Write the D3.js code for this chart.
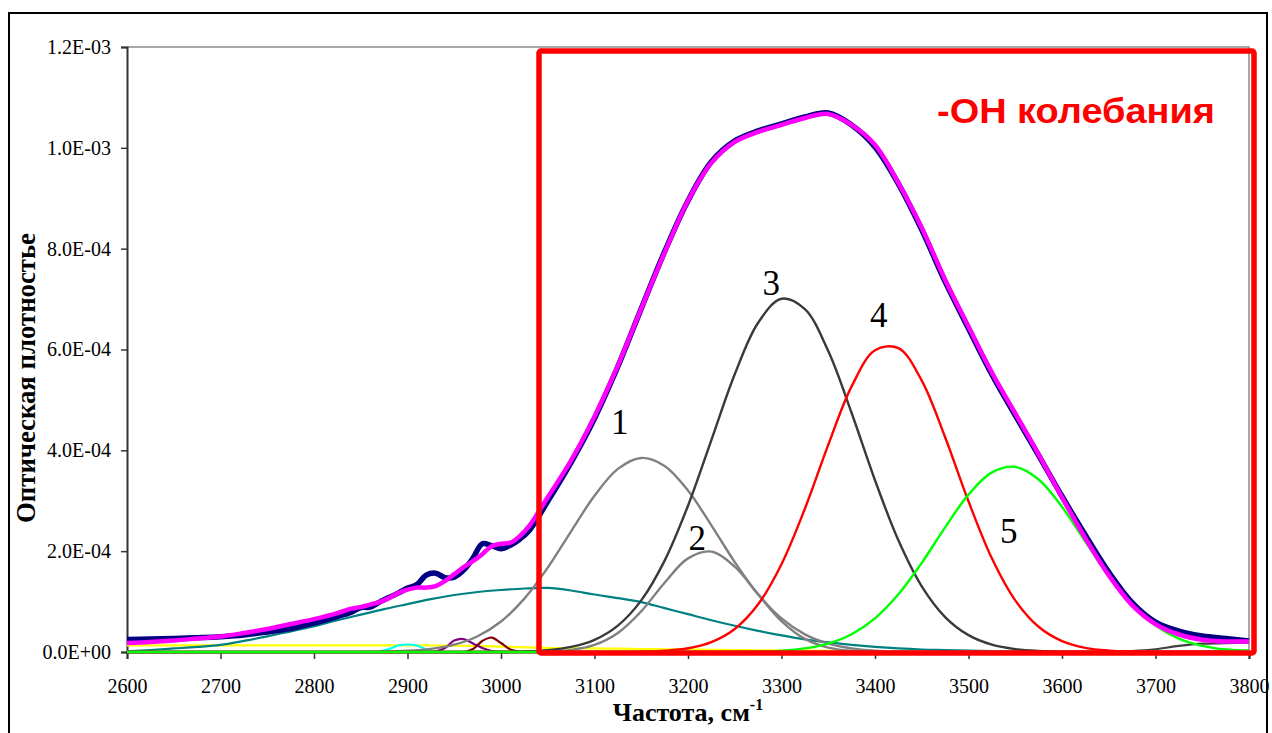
<!DOCTYPE html>
<html>
<head>
<meta charset="utf-8">
<script src="https://cdn.jsdelivr.net/npm/d3@7"></script>
<style>
  body { margin: 0; background: #fff; }
  svg { display: block; }
</style>
</head>
<body>
<svg id="chart" width="1272" height="733"></svg>
<script>
// Band intensities are listed in units of 1e-4 (optical density).
const UNIT = 1e-4;

// Main wavenumber grid, cm^-1
const wn = [2600,2625,2650,2675,2700,2725,2750,2775,2800,2825,2850,2875,2900,2925,2950,2975,
            3000,3025,3050,3075,3100,3125,3150,3175,3200,3225,3250,3275,3300,3325,3350,3375,
            3400,3425,3450,3475,3500,3525,3550,3575,3600,3625,3650,3675,3700,3725,3750,3775,3800];

// Fine grid for the narrow C-H bands
const wnFine = [2860,2870,2880,2890,2900,2910,2920,2930,2940,2950,2960,2970,2980,2990,3000,3010,3020,3030];

// Grid of the measured spectrum and of the fitted envelope
const wnSpec = [2600,2625,2650,2675,2700,2725,2750,2775,2800,2825,
                2840,2850,2860,2870,2880,2890,2900,2910,2920,2930,2940,2950,2960,2970,2980,2990,3000,3010,3020,3030,
                3050,3075,3100,3125,3150,3175,3200,3225,3250,3275,3300,3325,3350,3375,3400,3425,3450,3475,3500,
                3525,3550,3575,3600,3625,3650,3675,3700,3725,3750,3775,3800];

// Measured spectrum
const measured = [0.248,0.257,0.267,0.283,0.303,0.337,0.396,0.465,0.574,0.703,
                  0.792,0.881,0.891,0.990,1.079,1.168,1.267,1.337,1.525,1.564,1.475,1.485,1.624,1.861,2.148,2.109,2.049,2.119,2.237,2.406,
                  2.990,3.762,4.633,5.663,6.811,7.940,8.950,9.722,10.138,10.336,10.474,10.613,10.692,10.454,10.019,9.286,8.375,7.346,6.415,
                  5.504,4.693,3.901,3.089,2.317,1.584,0.980,0.594,0.416,0.317,0.267,0.218];

// Sum of the fitted bands
const fitted = [0.178,0.198,0.228,0.267,0.307,0.376,0.455,0.554,0.653,0.772,
                0.861,0.891,0.941,0.990,1.069,1.168,1.238,1.277,1.277,1.307,1.406,1.544,1.683,1.802,1.940,2.099,2.148,2.168,2.297,2.495,
                3.069,3.802,4.673,5.683,6.811,7.920,8.950,9.702,10.118,10.316,10.454,10.593,10.672,10.454,10.058,9.306,8.415,7.385,6.455,
                5.544,4.732,3.920,3.069,2.257,1.525,0.931,0.554,0.347,0.244,0.210,0.208];

// OH bands 1-5 on the main grid
const band1 = [0,0,0,0,0,0,0,0,0,0,0,0.008,0.024,0.062,0.146,0.313,0.605,1.058,1.673,2.394,3.100,3.632,3.849,3.690,3.201,
               2.512,1.784,1.146,0.666,0.350,0.166,0.072,0.028,0.010,0.003,0,0,0,0,0,0,0,0,0,0,0,0,0,0];
const band2 = [0,0,0,0,0,0,0,0,0,0,0,0,0,0,0,0,0,0.002,0.010,0.041,0.140,0.377,0.808,1.375,1.857,
               1.991,1.693,1.143,0.613,0.260,0.088,0.024,0.005,0,0,0,0,0,0,0,0,0,0,0,0,0,0,0,0];
const band3 = [0,0,0,0,0,0,0,0,0,0,0,0,0,0,0,0,0.004,0.013,0.038,0.101,0.242,0.524,1.024,1.813,2.902,
               4.204,5.509,6.531,7.006,6.799,5.968,4.740,3.407,2.215,1.302,0.693,0.334,0.145,0.057,0.020,0.007,0.002,0,0,0,0,0,0,0];
const band4 = [0,0,0,0,0,0,0,0,0,0,0,0,0,0,0,0,0,0,0,0,0,0,0.007,0.025,0.074,
               0.195,0.456,0.946,1.742,2.841,4.109,5.268,5.986,6.029,5.383,4.260,2.989,1.859,1.025,0.501,0.217,0.083,0.028,0.009,0.002,0,0,0,0];
const band5 = [0,0,0,0,0,0,0,0,0,0,0,0,0,0,0,0,0,0,0,0,0,0,0,0,0,
               0,0.003,0.010,0.028,0.072,0.168,0.353,0.668,1.144,1.769,2.473,3.122,3.562,3.673,3.421,2.879,2.190,1.504,0.934,0.524,0.265,0.122,0.050,0.030];

// Broad background bands on the main grid
const bandBroad = [0.015,0.04,0.07,0.10,0.14,0.22,0.31,0.41,0.51,0.63,0.74,0.85,0.95,1.05,1.13,1.19,1.23,1.26,1.27,1.22,1.14,1.07,0.99,0.87,0.75,
                   0.63,0.52,0.42,0.33,0.25,0.19,0.14,0.10,0.07,0.05,0.04,0.03,0.02,0.01,0,0,0,0,0,0,0,0,0,0];
const bandFlat = [0.13,0.13,0.13,0.13,0.13,0.13,0.13,0.13,0.13,0.13,0.13,0.13,0.13,0.13,0.125,0.12,0.105,0.09,0.08,0.075,0.07,0.065,0.06,0.055,0.05,
                  0.045,0.04,0.035,0.03,0.027,0.025,0.022,0.02,0.018,0.016,0.014,0.012,0.01,0.008,0.007,0.006,0.005,0.004,0.004,0.003,0.003,0.002,0.002,0.002];
const bandHigh = [0,0,0,0,0,0,0,0,0,0,0,0,0,0,0,0,0,0,0,0,0,0,0,0,0,
                  0,0,0,0,0,0,0,0,0,0,0,0,0,0,0,0,0,0.005,0.02,0.055,0.12,0.165,0.175,0.19];

// Narrow C-H bands on the fine grid
const bandCH1 = [0,0.01,0.059,0.129,0.149,0.129,0.05,0.01,0,0,0,0,0,0,0,0,0,0];
const bandCH2 = [0,0,0,0,0,0,0,0.01,0.079,0.228,0.257,0.168,0.079,0.02,0,0,0,0];
const bandCH3 = [0,0,0,0,0,0,0,0,0,0,0,0.059,0.218,0.287,0.178,0.05,0.01,0];

// Axis ticks
const xTicks = [2600,2700,2800,2900,3000,3100,3200,3300,3400,3500,3600,3700,3800];
const yTicks = [0,2e-4,4e-4,6e-4,8e-4,1e-3,1.2e-3];
const yTickLabels = ["0.0E+00","2.0E-04","4.0E-04","6.0E-04","8.0E-04","1.0E-03","1.2E-03"];

// Band numbers and where they sit (wavenumber, intensity in 1e-4)
const bandLabels = ["1","2","3","4","5"];
const bandLabelAt = [[3127,4.32],[3210,2.02],[3289,7.09],[3404,6.44],[3543,2.17]];

const svg = d3.select("#chart");
const x = d3.scaleLinear().domain([2600, 3800]).range([127, 1249]);
const y = d3.scaleLinear().domain([0, 1.2e-3]).range([652, 47]);

// Outer chart border
svg.append("rect")
  .attr("x", 9).attr("y", 13).attr("width", 1258).attr("height", 740)
  .attr("fill", "none").attr("stroke", "#000").attr("stroke-width", 2);

// Plot area frame (top and right)
svg.append("path")
  .attr("d", `M${x(2600)},${y(1.2e-3)}H${x(3800)}V${y(0)}`)
  .attr("fill", "none").attr("stroke", "#8c8c8c").attr("stroke-width", 1.5);

const serif = "'Liberation Serif','Times New Roman',serif";

// Y axis
const gy = svg.append("g").attr("transform", `translate(${x(2600)},0)`)
  .call(d3.axisLeft(y).tickValues(yTicks).tickFormat((d, i) => yTickLabels[i]).tickSize(6).tickPadding(10));
// X axis
const gx = svg.append("g").attr("transform", `translate(0,${y(0)})`)
  .call(d3.axisBottom(x).tickValues(xTicks).tickFormat(d3.format("d")).tickSize(7).tickPadding(20));

[gx, gy].forEach(g => {
  g.select(".domain").attr("stroke", "#333").attr("stroke-width", 2);
  g.selectAll(".tick line").attr("stroke", "#333").attr("stroke-width", 1.5);
  g.selectAll(".tick text").attr("fill", "#000")
    .style("font-family", serif).style("font-size", "20px");
});

const line = d3.line()
  .x(d => x(d[0]))
  .y(d => y(d[1] * UNIT))
  .curve(d3.curveCatmullRom.alpha(0.5));

function series(xs, vals, color, width) {
  svg.append("path")
    .datum(vals.map((v, i) => [xs[i], v]))
    .attr("d", line)
    .attr("fill", "none")
    .attr("stroke", color)
    .attr("stroke-width", width)
    .attr("stroke-linejoin", "round");
}

// Component bands
series(wn, bandFlat, "#ffff00", 2.2);
series(wnFine, bandCH1, "#00ffff", 2.2);
series(wnFine, bandCH2, "#800080", 2.2);
series(wnFine, bandCH3, "#800000", 2.2);
series(wn, bandBroad, "#008080", 2.2);
series(wn, bandHigh, "#404040", 2.2);
series(wn, band1, "#808080", 2.4);
series(wn, band2, "#808080", 2.4);
series(wn, band3, "#3a3a3a", 2.4);
series(wn, band4, "#ff0000", 2.4);
series(wn, band5, "#00ff00", 2.4);

// Measured spectrum and fitted envelope
series(wnSpec, measured, "#000080", 5.5);
series(wnSpec, fitted, "#ff00ff", 4.5);

// Highlighted OH region
svg.append("rect")
  .attr("x", 539).attr("y", 51).attr("width", 715).attr("height", 602).attr("rx", 2)
  .attr("fill", "none").attr("stroke", "#ff0000").attr("stroke-width", 5.5);

svg.append("text")
  .attr("x", 937).attr("y", 123)
  .style("font-family", "'Liberation Sans',Arial,sans-serif")
  .style("font-weight", "bold").style("font-size", "35px")
  .attr("textLength", 278).attr("lengthAdjust", "spacingAndGlyphs")
  .attr("fill", "#ff0000")
  .text("-ОН колебания");

// Band numbers
svg.selectAll("text.band").data(bandLabels).enter().append("text")
  .attr("class", "band")
  .attr("x", (d, i) => x(bandLabelAt[i][0]))
  .attr("y", (d, i) => y(bandLabelAt[i][1] * UNIT))
  .attr("text-anchor", "middle")
  .style("font-family", serif).style("font-size", "35px")
  .attr("fill", "#000")
  .text(d => d);

// Axis titles
svg.append("text")
  .attr("transform", "translate(35,378) rotate(-90)")
  .attr("text-anchor", "middle")
  .style("font-family", serif).style("font-weight", "bold").style("font-size", "27px")
  .attr("textLength", 290).attr("lengthAdjust", "spacingAndGlyphs")
  .text("Оптическая плотностье");

const xt = svg.append("text")
  .attr("x", 688).attr("y", 721)
  .attr("text-anchor", "middle")
  .style("font-family", serif).style("font-weight", "bold").style("font-size", "26px");
xt.append("tspan").text("Частота, см");
xt.append("tspan").attr("dy", -11).style("font-size", "16px").text("-1");
</script>
</body>
</html>
